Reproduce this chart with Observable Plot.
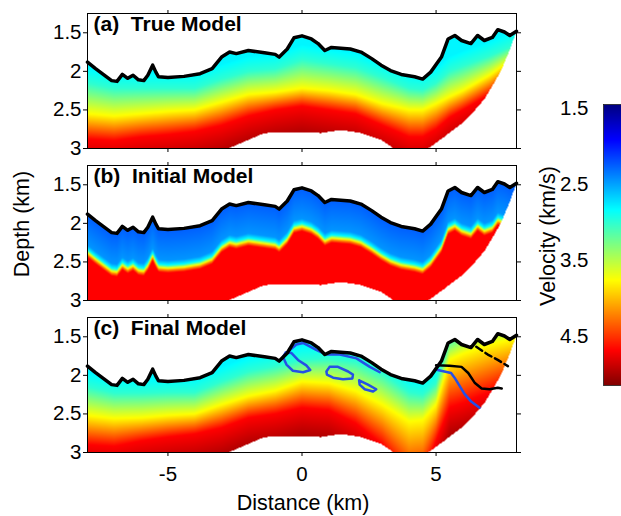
<!DOCTYPE html>
<html>
<head>
<meta charset="utf-8">
<script src="https://cdn.jsdelivr.net/npm/d3@7"></script>
<script src="https://cdn.jsdelivr.net/npm/@observablehq/plot@0.6"></script>
<style>
  html, body { margin: 0; padding: 0; background: #fff; }
  #root { position: relative; width: 621px; height: 516px; overflow: hidden; background: #fff; }
  .pos { position: absolute; }
  svg { overflow: visible; max-width: none !important; }
</style>
</head>
<body>
<div id="root"></div>
<script>
// ---------------- data ----------------
// seafloor (top of model), km
const seafloorX = [-8, -7.7, -7.45, -7.1, -6.9, -6.7, -6.5, -6.3, -6.1, -5.9, -5.75, -5.57, -5.45, -5.35, -5.0, -4.4, -3.8, -3.35, -3.0, -2.7, -2.45, -2.0, -1.4, -1.0, -0.85, -0.55, -0.3, 0, 0.35, 0.6, 0.85, 1.1, 1.8, 2.2, 2.6, 2.95, 3.3, 3.7, 4.2, 4.5, 4.8, 5.2, 5.45, 5.7, 5.95, 6.3, 6.55, 6.8, 7.1, 7.3, 7.55, 7.75, 8.0];
const seafloorZ = [1.88, 1.965, 2.03, 2.12, 2.13, 2.04, 2.09, 2.05, 2.11, 2.12, 2.05, 1.92, 2.01, 2.07, 2.08, 2.065, 2.03, 1.965, 1.815, 1.75, 1.77, 1.73, 1.76, 1.78, 1.815, 1.71, 1.565, 1.54, 1.58, 1.64, 1.73, 1.69, 1.71, 1.75, 1.835, 1.92, 1.99, 2.04, 2.07, 2.10, 2.01, 1.815, 1.58, 1.535, 1.60, 1.64, 1.535, 1.60, 1.56, 1.46, 1.49, 1.535, 1.48];
// lower edge of the model, km
const bottomX = [-8, -2.75, -1.4, 0, 0.7, 1.45, 2.2, 2.95, 3.3, 3.6, 4.5, 4.7, 4.95, 5.3, 5.6, 5.95, 6.2, 6.56, 6.8, 7.05, 7.43, 7.75, 8.0];
const bottomZ = [3.05, 3.0, 2.8, 2.79, 2.8, 2.76, 2.8, 2.89, 2.97, 3.05, 3.05, 3.0, 2.94, 2.85, 2.77, 2.68, 2.6, 2.46, 2.36, 2.22, 1.99, 1.72, 1.48];

// depth of iso-velocity levels (3.0, 3.76, 4.68 km/s) at these distances
const knotX = [-8, -7, -6, -5, -4, -3, -2, -1, 0, 1, 2, 3, 4, 4.5, 5, 5.5, 6, 7, 8];
const levelV = [3.0, 3.76, 4.68];
const trueL1 = [2.15, 2.22, 2.22, 2.22, 2.22, 2.1, 2.0, 1.97, 1.85, 1.9, 1.95, 2.08, 2.22, 2.24, 2.15, 2.0, 1.93, 1.8, 1.65];
const trueL2 = [2.55, 2.58, 2.55, 2.52, 2.5, 2.4, 2.3, 2.27, 2.22, 2.25, 2.3, 2.42, 2.5, 2.5, 2.42, 2.33, 2.25, 2.05, 1.8];
const trueL3 = [2.88, 2.9, 2.85, 2.82, 2.78, 2.7, 2.58, 2.5, 2.45, 2.5, 2.55, 2.7, 2.85, 2.85, 2.75, 2.6, 2.5, 2.3, 2.0];
const finalL1 = [2.15, 2.23, 2.23, 2.22, 2.22, 2.08, 1.95, 1.88, 1.8, 1.78, 1.82, 1.97, 2.22, 2.25, 2.1, 1.52, 1.42, 1.3, 1.25];
const finalL2 = [2.52, 2.56, 2.55, 2.52, 2.5, 2.38, 2.27, 2.2, 2.08, 2.1, 2.2, 2.38, 2.6, 2.58, 2.38, 1.8, 1.72, 1.6, 1.52];
const finalL3 = [2.9, 2.92, 2.85, 2.8, 2.76, 2.68, 2.55, 2.5, 2.42, 2.45, 2.62, 2.9, 3.35, 3.3, 2.85, 2.42, 2.36, 2.22, 2.05];

// initial model: velocity vs depth below seafloor
const initDepth = [0, 0.40, 0.46, 0.49, 0.52, 0.56];
const initVel = [2.25, 2.45, 2.83, 3.5, 4.1, 4.68];

// contours drawn on the final model
const blueLoop1 = [[-0.71, 1.76], [-0.58, 1.86], [-0.34, 1.94], [0.04, 1.96], [0.31, 1.93], [0.16, 1.87], [-0.15, 1.80], [-0.40, 1.71], [-0.6, 1.70], [-0.71, 1.76]];
const blueLoop2 = [[0.91, 1.95], [1.03, 1.89], [1.34, 1.89], [1.72, 1.95], [1.90, 1.99], [1.88, 2.04], [1.53, 2.05], [1.16, 2.03], [0.93, 1.99], [0.91, 1.95]];
const blueLoop3 = [[2.13, 2.065], [2.46, 2.12], [2.77, 2.18], [2.65, 2.21], [2.34, 2.18], [2.15, 2.12], [2.13, 2.065]];
const blueTop = [[-0.52, 1.69], [-0.21, 1.60], [0.04, 1.58], [0.53, 1.67], [0.91, 1.73], [1.41, 1.73], [2.03, 1.78], [2.53, 1.89], [2.9, 1.96]];
const blueRight = [[5.06, 1.93], [5.56, 1.97], [5.69, 2.03], [5.85, 2.12], [6.06, 2.24], [6.31, 2.34], [6.62, 2.42]];
const blackSolid = [[5.0, 1.87], [5.5, 1.875], [5.95, 1.89], [6.2, 1.97], [6.45, 2.1], [6.7, 2.17], [7.0, 2.18], [7.3, 2.16], [7.45, 2.17]];
const blackDashed = [[6.5, 1.63], [6.93, 1.73], [7.3, 1.80], [7.68, 1.88]];

const yTicks = [1.5, 2, 2.5, 3];
const xTicks = [-5, 0, 5];
const barTicks = [1.5, 2.5, 3.5, 4.5];
const velDomain = [1.45, 5.14];
const titles = ["(a)\u00a0 True Model", "(b)\u00a0 Initial Model", "(c)\u00a0 Final Model"];

// ---------------- helpers ----------------
const FONT = "'Liberation Sans', Arial, Helvetica, sans-serif";
function interp(xs, ys, x) {
  const n = xs.length;
  if (x <= xs[0]) return ys[0];
  if (x >= xs[n - 1]) return ys[n - 1];
  const i = d3.bisectRight(xs, x) - 1;
  const t = (x - xs[i]) / (xs[i + 1] - xs[i]);
  return ys[i] + t * (ys[i + 1] - ys[i]);
}
function jet(t) {
  const c = v => Math.max(0, Math.min(1, v));
  const r = c(Math.min(4 * t - 1.5, -4 * t + 4.5));
  const g = c(Math.min(4 * t - 0.5, -4 * t + 3.5));
  const b = c(Math.min(4 * t + 0.5, -4 * t + 2.5));
  return `rgb(${Math.round(r * 255)},${Math.round(g * 255)},${Math.round(b * 255)})`;
}
const colorOpts = {type: "linear", domain: velDomain, interpolate: jet, clamp: true};
function inside(x, z) {
  return z >= interp(seafloorX, seafloorZ, x) && z <= interp(bottomX, bottomZ, x);
}
function layered(L1, L2, L3) {
  return (x, z) => {
    if (!inside(x, z)) return NaN;
    const a = interp(knotX, L1, x), b = interp(knotX, L2, x), c = interp(knotX, L3, x);
    if (z < a) return Math.max(2.8, levelV[0] - (a - z));
    if (z < b) return levelV[0] + (z - a) / (b - a) * (levelV[1] - levelV[0]);
    if (z < c) return levelV[1] + (z - b) / (c - b) * (levelV[2] - levelV[1]);
    return Math.min(4.98, levelV[2] + (z - c) * 0.8);
  };
}
const initial = (x, z) => {
  if (!inside(x, z)) return NaN;
  return interp(initDepth, initVel, z - interp(seafloorX, seafloorZ, x));
};
const seafloor = seafloorX.map((x, i) => ({x, z: seafloorZ[i]}));
const pts = a => a.map(([x, z]) => ({x, z}));

function panel(title, vel, extra, last) {
  return Plot.plot({
    width: 530, height: last ? 212 : 150,
    marginLeft: 87, marginRight: 14, marginTop: 13, marginBottom: last ? 64 : 2,
    style: {fontFamily: FONT, background: "transparent", color: "black"},
    x: {domain: [-8, 8]},
    y: {domain: [1.25, 3], reverse: true},
    color: colorOpts,
    marks: [
      Plot.raster({x1: -8, x2: 8, y1: 1.25, y2: 3, fill: vel, pixelSize: 1}),
      ...extra,
      Plot.line(seafloor, {x: "x", y: "z", stroke: "black", strokeWidth: 3.5}),
      Plot.frame({stroke: "black", strokeWidth: 1}),
      Plot.axisY({anchor: "left", ticks: yTicks, tickSize: 4, tickPadding: 2, fontSize: 20.5, label: null, tickFormat: d => String(d)}),
      Plot.axisY({anchor: "right", ticks: yTicks, tickSize: 4, label: null, tickFormat: () => ""}),
      Plot.axisX({anchor: "top", ticks: xTicks, tickSize: 4, label: null, tickFormat: () => ""}),
      Plot.axisX({anchor: "bottom", ticks: xTicks, tickSize: 4, tickPadding: 10, fontSize: 20.5, label: null, tickFormat: last ? (d => String(d)) : () => ""}),
      Plot.text([title], {frameAnchor: "top-left", dx: 6, dy: 3, lineAnchor: "top", fontSize: 21, fontWeight: "bold", fill: "black", text: d => d})
    ]
  });
}

const BLUE = "#2450e6";
const finalExtras = [
  Plot.line(pts(blueLoop1), {x: "x", y: "z", stroke: BLUE, strokeWidth: 2.5}),
  Plot.line(pts(blueLoop2), {x: "x", y: "z", stroke: BLUE, strokeWidth: 2.5}),
  Plot.line(pts(blueLoop3), {x: "x", y: "z", stroke: BLUE, strokeWidth: 2.5}),
  Plot.line(pts(blueTop), {x: "x", y: "z", stroke: BLUE, strokeWidth: 2.5}),
  Plot.line(pts(blueRight), {x: "x", y: "z", stroke: BLUE, strokeWidth: 2.5}),
  Plot.line(pts(blackSolid), {x: "x", y: "z", stroke: "black", strokeWidth: 2.5}),
  Plot.line(pts(blackDashed), {x: "x", y: "z", stroke: "black", strokeWidth: 2.5, strokeDasharray: "7,4"})
];

const root = document.getElementById("root");
function place(node, left, top, w, h) {
  const d = document.createElement("div");
  d.className = "pos";
  d.style.left = left + "px";
  d.style.top = top + "px";
  d.style.width = w + "px";
  d.style.height = h + "px";
  d.appendChild(node);
  root.appendChild(d);
}
place(panel(titles[0], layered(trueL1, trueL2, trueL3), [], false), 0, 0, 530, 150);
place(panel(titles[1], initial, [], false), 0, 152, 530, 150);
place(panel(titles[2], layered(finalL1, finalL2, finalL3), finalExtras, true), 0, 304, 530, 212);

// colour bar
const bar = Plot.plot({
  width: 120, height: 301, marginLeft: 83, marginRight: 0, marginTop: 10, marginBottom: 10,
  style: {fontFamily: FONT, background: "transparent", color: "black"},
  x: {domain: [0, 1], axis: null},
  y: {domain: velDomain, reverse: true},
  color: colorOpts,
  marks: [
    Plot.raster({x1: 0, x2: 1, y1: velDomain[0], y2: velDomain[1], fill: (x, y) => y, pixelSize: 1}),
    Plot.frame({stroke: "#222", strokeWidth: 0.8}),
    Plot.axisY({anchor: "left", ticks: barTicks, tickSize: 0, tickPadding: 15, fontSize: 20.5, label: null, tickFormat: d => String(d)})
  ]
});
place(bar, 520, 94, 120, 301);

// axis titles
const ns = "http://www.w3.org/2000/svg";
const over = document.createElementNS(ns, "svg");
over.setAttribute("width", 621);
over.setAttribute("height", 516);
over.style.position = "absolute";
over.style.left = "0px";
over.style.top = "0px";
over.style.pointerEvents = "none";
function label(txt, x, y, rot) {
  const t = document.createElementNS(ns, "text");
  t.textContent = txt;
  t.setAttribute("x", x);
  t.setAttribute("y", y);
  t.setAttribute("text-anchor", "middle");
  t.setAttribute("font-family", FONT);
  t.setAttribute("font-size", 21.5);
  if (rot) t.setAttribute("transform", `rotate(-90 ${x} ${y})`);
  over.appendChild(t);
}
label("Depth (km)", 29, 224, true);
label("Distance (km)", 303, 510, false);
label("Velocity (km/s)", 555, 236, true);
root.appendChild(over);
</script>
</body>
</html>
